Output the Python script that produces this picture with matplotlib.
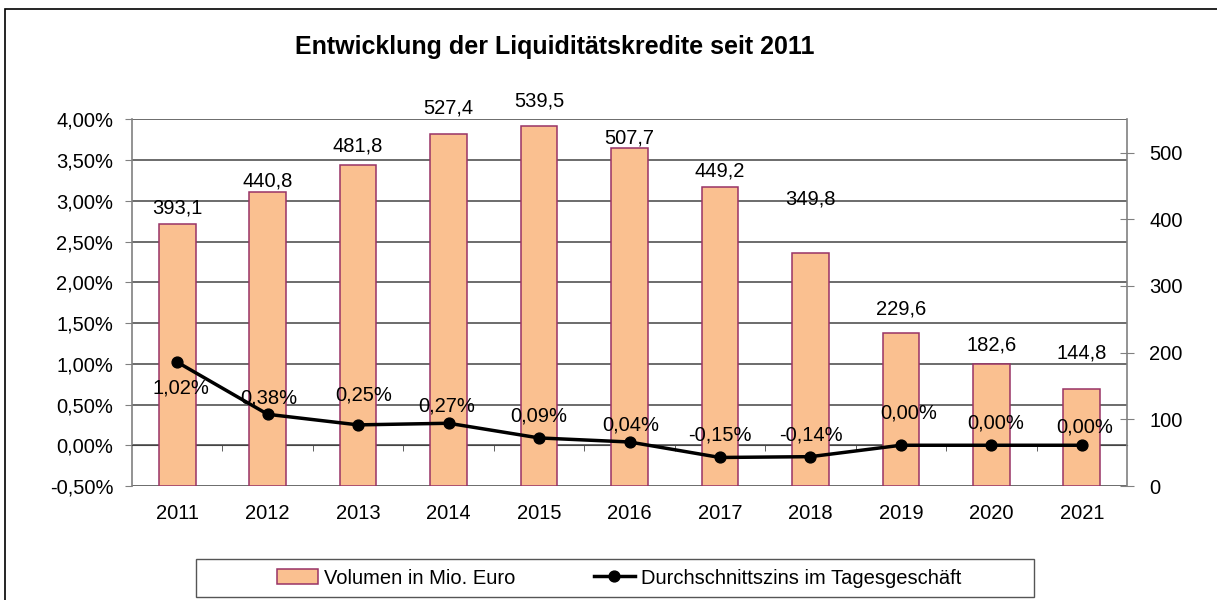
import numpy as np
import matplotlib
matplotlib.use('Agg')
import matplotlib.pyplot as plt
from matplotlib.patches import Rectangle
from matplotlib.ticker import FuncFormatter

plt.rcParams['font.family'] = ['Liberation Sans', 'DejaVu Sans']

years = ['2011', '2012', '2013', '2014', '2015', '2016', '2017', '2018', '2019', '2020', '2021']
volume = [393.1, 440.8, 481.8, 527.4, 539.5, 507.7, 449.2, 349.8, 229.6, 182.6, 144.8]
rate = [1.02, 0.38, 0.25, 0.27, 0.09, 0.04, -0.15, -0.14, 0.00, 0.00, 0.00]

title = 'Entwicklung der Liquiditätskredite seit 2011'
vol_name = 'Volumen in Mio. Euro'
rate_name = 'Durchschnittszins im Tagesgeschäft'

# label offsets in pixels (labels were moved by hand in the original)
vol_dy = [16, 11, 19, 26, 25, 10, 16, 54, 24, 19, 36]
rate_dy = [-26, 16, 30, 17, 22, 17, 22, 22, 32, 22, 18]
rate_dx = [4, 1, 6, -2, 0, 1, 0, 1, 8, 4, 3]

FS = 14.5
W, H = 1217, 600
fig = plt.figure(figsize=(W / 100, H / 100), dpi=100)
ax = fig.add_axes([132 / W, 1 - 486 / H, (1127 - 132) / W, (486 - 119.3) / H])

x = np.arange(len(years))
ax.set_xlim(-0.5, len(years) - 0.5)
ax.set_ylim(-0.5, 4.0)
ax.set_yticks([-0.5, 0, 0.5, 1.0, 1.5, 2.0, 2.5, 3.0, 3.5, 4.0])
ax.yaxis.set_major_formatter(FuncFormatter(lambda v, p: f"{v:.2f}%".replace('.', ',')))
ax.grid(axis='y', color='#444444', lw=1.1)
ax.set_axisbelow(True)
for s in ['top', 'right']:
    ax.spines[s].set_visible(False)
ax.spines['left'].set_color('#808080')
ax.spines['left'].set_linewidth(1.2)
ax.spines['bottom'].set_position(('data', 0))
ax.spines['bottom'].set_color('#444444')
ax.set_xticks(x, years)
ax.set_xticks(x[:-1] + 0.5, minor=True)
ax.tick_params(axis='x', which='major', length=0, pad=42, labelsize=FS)
ax.tick_params(axis='x', which='minor', length=4.5, color='#444444', direction='out')
ax.tick_params(axis='y', length=5, color='#808080', pad=8.5, labelsize=FS)

# bars on the secondary axis
ax2 = ax.twinx()
ax2.set_ylim(0, 550)
bars = ax2.bar(x, volume, width=0.405, color='#FAC090', edgecolor='#993366', linewidth=1.1)
ax2.set_yticks([0, 100, 200, 300, 400, 500])
for s in ['top', 'left', 'bottom']:
    ax2.spines[s].set_visible(False)
ax2.spines['right'].set_color('#808080')
ax2.spines['right'].set_linewidth(1.2)
ax2.tick_params(axis='y', direction='inout', length=10, color='#808080', pad=11, labelsize=FS)
for xi, v, dy in zip(x, volume, vol_dy):
    ax2.annotate(f"{v:.1f}".replace('.', ','), (xi, v), xytext=(0, dy),
                 textcoords='offset pixels', ha='center', va='center', fontsize=FS)

# line on top of the bars
ax3 = ax.twinx()
ax3.set_ylim(ax.get_ylim())
ax3.axis('off')
line, = ax3.plot(x, rate, color='black', lw=2.5, marker='o', markersize=7.8)
for xi, v, dx, dy in zip(x, rate, rate_dx, rate_dy):
    ax3.annotate(f"{v:.2f}%".replace('.', ','), (xi, v), xytext=(dx, dy),
                 textcoords='offset pixels', ha='center', va='center', fontsize=FS)

fig.text(555 / W, 1 - 47 / H, title, ha='center', va='center', fontsize=18, fontweight='bold')

# legend with its own frame
fig.patches.append(Rectangle((196 / W, 1 - 597 / H), (1034 - 196) / W, 38 / H,
                             transform=fig.transFigure, fill=False, ec='#555555', lw=1))
fig.legend([bars, line], [vol_name, rate_name], loc='center', bbox_to_anchor=(619 / W, 1 - 578 / H),
           ncol=2, frameon=False, fontsize=FS, columnspacing=3.9, handlelength=2.05,
           handletextpad=0.3)

# outer chart border (cropped at right and bottom)
fig.patches.append(Rectangle((5 / W, -0.05), 1.1, 1 - 9 / H + 0.05,
                             transform=fig.transFigure, fill=False, ec='black', lw=1.2))

fig.savefig('out.png', dpi=100)
